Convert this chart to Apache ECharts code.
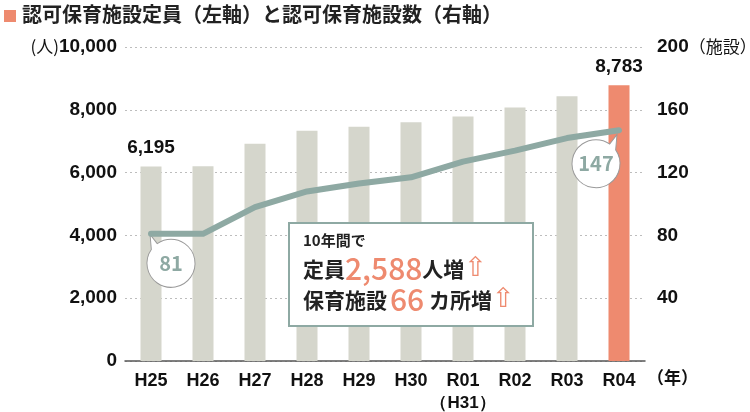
<!DOCTYPE html>
<html>
<head>
<meta charset="utf-8">
<script src="https://cdn.jsdelivr.net/npm/echarts@6/dist/echarts.min.js"></script>
<style>
  html, body { margin: 0; padding: 0; background: #fff; }
  #chart { width: 750px; height: 412px; }
</style>
</head>
<body>
<div id="chart"></div>
<script>
// data
var years = ['H25', 'H26', 'H27', 'H28', 'H29', 'H30', 'R01', 'R02', 'R03', 'R04'];
var capacity = [6195, 6200, 6920, 7330, 7460, 7600, 7790, 8070, 8430, 8783]; // 定員 (人), left axis
var facilities = [81, 81, 98, 108, 113, 117, 127, 134, 142, 147];           // 施設数, right axis
var leftTicks = [0, 2000, 4000, 6000, 8000, 10000];
var rightTicks = [0, 40, 80, 120, 160, 200];
var shownBarLabels = [0, 9];
var bubbleIdx = [0, 9];

var dom = document.getElementById('chart');
var myChart = echarts.init(dom, null, { renderer: 'canvas' });

var GRAY_BAR = '#d5d6cc';
var ORANGE = '#ee8a6f';
var TEAL = '#8ea9a3';
var CJK = '"Noto Sans CJK JP", "Noto Sans", sans-serif';
var NUM = '"Liberation Sans", Arial, sans-serif';

function fmt(v) {
  return String(v).replace(/\B(?=(\d{3})+(?!\d))/g, ',');
}

// speech bubble shapes (circle with a small tail at the top)
var bubbleLeft = 'path://M11.2 11.3L4 2L5.3 17.2A24 24 0 1 0 11.2 11.3Z';
var bubbleRight = 'path://M38.8 11.3L46 2L44.7 17.2A24 24 0 1 1 38.8 11.3Z';

var barData = capacity.map(function (v, i) {
  var item = { value: v };
  if (i === years.length - 1) item.itemStyle = { color: ORANGE };
  if (shownBarLabels.indexOf(i) >= 0) {
    item.label = {
      show: true,
      position: 'top',
      distance: 9,
      formatter: fmt(v),
      fontFamily: NUM,
      fontWeight: 'bold',
      fontSize: 19,
      color: '#111'
    };
  }
  return item;
});

var option = {
  animation: false,
  grid: { left: 125, right: 105, top: 47, bottom: 51, outerBoundsMode: 'none', containLabel: false },
  graphic: [
    { type: 'rect', left: 4, top: 10, shape: { width: 12, height: 12 }, style: { fill: ORANGE } },
    {
      type: 'text', left: 22, top: 4,
      style: {
        text: '認可保育施設定員（左軸）と認可保育施設数（右軸）',
        font: 'bold 20px ' + CJK,
        fill: '#222'
      }
    },
    {
      type: 'rect', left: 288, top: 222,
      shape: { width: 244, height: 103 },
      style: { fill: '#fff', stroke: TEAL, lineWidth: 2 },
      z: 100
    },
    {
      type: 'text', left: 303, top: 233, z: 101,
      style: { text: '10年間で', font: 'bold 15px ' + CJK, fill: '#222' }
    },
    {
      type: 'text', left: 303, top: 254, z: 101,
      style: {
        text: '{a|定員}{b|2,588}{a|人増}{c|⇧}',
        rich: {
          a: { fontFamily: CJK, fontSize: 21, fontWeight: 'bold', fill: '#222' },
          b: { fontFamily: CJK, fontSize: 30, fontWeight: 500, fill: ORANGE },
          c: { fontFamily: 'DejaVu Sans', fontSize: 27, fill: ORANGE }
        }
      }
    },
    {
      type: 'text', left: 303, top: 285, z: 101,
      style: {
        text: '{a|保育施設}{b|66}{a| カ所増}{c|⇧}',
        rich: {
          a: { fontFamily: CJK, fontSize: 21, fontWeight: 'bold', fill: '#222' },
          b: { fontFamily: CJK, fontSize: 30, fontWeight: 500, fill: ORANGE, padding: [0, 0, 0, 3] },
          c: { fontFamily: 'DejaVu Sans', fontSize: 27, fill: ORANGE }
        }
      }
    }
  ],
  xAxis: {
    type: 'category',
    data: years,
    name: '（年）',
    nameLocation: 'end',
    nameGap: 2,
    nameTextStyle: {
      fontFamily: CJK, fontSize: 17, fontWeight: 'bold', color: '#111',
      verticalAlign: 'top', padding: [8, 0, 0, 0]
    },
    axisTick: { show: false },
    axisLine: { lineStyle: { color: '#555', width: 1.5 } },
    axisLabel: {
      interval: 0,
      margin: 9,
      fontFamily: NUM,
      fontWeight: 'bold',
      fontSize: 18,
      color: '#111',
      lineHeight: 22,
      formatter: function (v) {
        return v === 'R01' ? 'R01\n{s|（H31）}' : v;
      },
      rich: {
        s: { fontFamily: NUM, fontWeight: 'bold', fontSize: 17, color: '#111', lineHeight: 22 }
      }
    }
  },
  yAxis: [
    {
      type: 'value',
      min: leftTicks[0],
      max: leftTicks[leftTicks.length - 1],
      interval: leftTicks[1] - leftTicks[0],
      axisLine: { show: false },
      axisTick: { show: false },
      splitLine: { lineStyle: { color: '#bdbdbd', type: [2, 3], width: 1 } },
      axisLabel: {
        margin: 8,
        fontFamily: NUM,
        fontWeight: 'bold',
        fontSize: 19,
        color: '#111',
        formatter: function (v) {
          return v === 10000 ? '{u|(人)}' + fmt(v) : fmt(v);
        },
        rich: {
          u: { fontFamily: CJK, fontSize: 17, color: '#111', fontWeight: 'normal' }
        }
      }
    },
    {
      type: 'value',
      min: rightTicks[0],
      max: rightTicks[rightTicks.length - 1],
      interval: rightTicks[1] - rightTicks[0],
      axisLine: { show: false },
      axisTick: { show: false },
      splitLine: { show: false },
      axisLabel: {
        margin: 12,
        fontFamily: NUM,
        fontWeight: 'bold',
        fontSize: 19,
        color: '#111',
        formatter: function (v) {
          if (v === 0) return '';
          return v === 200 ? v + '{u|（施設）}' : String(v);
        },
        rich: {
          u: { fontFamily: CJK, fontSize: 17, color: '#111', fontWeight: 'normal' }
        }
      }
    }
  ],
  series: [
    {
      name: '認可保育施設定員',
      type: 'bar',
      yAxisIndex: 0,
      barWidth: 21,
      itemStyle: { color: GRAY_BAR },
      data: barData
    },
    {
      name: '認可保育施設数',
      type: 'line',
      yAxisIndex: 1,
      showSymbol: false,
      symbol: 'none',
      lineStyle: { color: TEAL, width: 6, cap: 'round', join: 'round' },
      data: facilities,
      z: 5,
      markPoint: {
        symbolSize: [48, 53],
        itemStyle: { color: '#fff', borderColor: '#9a9a9a', borderWidth: 1 },
        label: {
          show: true,
          position: 'inside',
          offset: [0, 2.5],
          fontFamily: CJK,
          fontWeight: 'bold',
          fontSize: 20,
          color: TEAL,
          formatter: function (p) { return String(p.value); }
        },
        data: [
          { coord: [bubbleIdx[0], facilities[bubbleIdx[0]]], value: facilities[bubbleIdx[0]], symbol: bubbleLeft, symbolOffset: [20, 27] },
          { coord: [bubbleIdx[1], facilities[bubbleIdx[1]]], value: facilities[bubbleIdx[1]], symbol: bubbleRight, symbolOffset: [-23, 31] }
        ]
      }
    }
  ]
};

if (option && typeof option === 'object') {
  myChart.setOption(option);
}

window.addEventListener('resize', myChart.resize);
</script>
</body>
</html>
